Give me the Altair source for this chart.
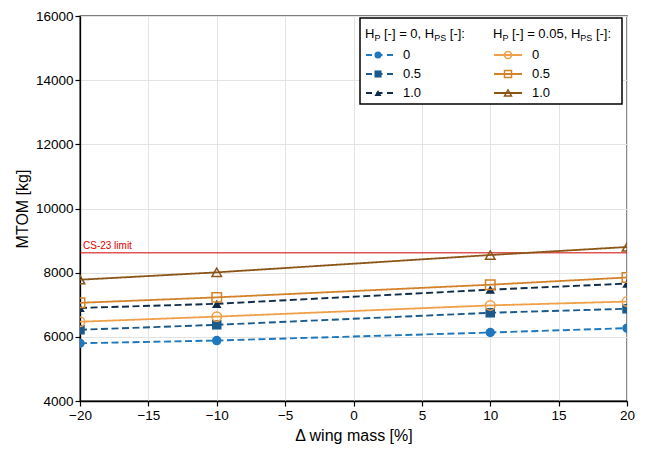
import altair as alt
import pandas as pd

# ---- data ----
wing_mass = [-20, -10, 10, 20]
hp0_hps0 = [5800, 5885, 6135, 6270]
hp0_hps05 = [6220, 6375, 6750, 6875]
hp0_hps1 = [6900, 7030, 7470, 7660]
hp005_hps0 = [6470, 6630, 6980, 7100]
hp005_hps05 = [7060, 7230, 7625, 7850]
hp005_hps1 = [7780, 8010, 8550, 8800]
cs23_limit = 8618
hps_labels = ["0", "0.5", "1.0"]

FONT = "Liberation Sans"
W, H = 547, 385

series = [
    ("b0", hp0_hps0, "#1f78be", "circle", True, [7, 3.5], 1.9),
    ("b05", hp0_hps05, "#1a5a8c", "square", True, [7, 3.5], 1.9),
    ("b1", hp0_hps1, "#0f2c4a", "triangle-up", True, [7, 3.5], 1.9),
    ("o0", hp005_hps0, "#efa048", "circle", False, [1, 0], 1.8),
    ("o05", hp005_hps05, "#d4822a", "square", False, [1, 0], 1.8),
    ("o1", hp005_hps1, "#8c5518", "triangle-up", False, [1, 0], 1.8),
]

rows = []
for name, vals, *_ in series:
    for x, y in zip(wing_mass, vals):
        rows.append({"s": name, "x": x, "y": y})
df = pd.DataFrame(rows)

xscale = alt.Scale(domain=[-20, 20], nice=False, zero=False)
yscale = alt.Scale(domain=[4000, 16000], nice=False, zero=False)
xaxis = alt.Axis(values=list(range(-20, 21, 5)), title="Δ wing mass [%]", labelFlush=False)
yaxis = alt.Axis(values=list(range(4000, 16001, 2000)), title="MTOM [kg]", format="d",
                 labelFlush=False)

base = alt.Chart(df)
layers = []

lim_df = pd.DataFrame({"y": [cs23_limit], "x": [-20], "t": ["CS-23 limit"]})
layers.append(
    alt.Chart(lim_df).mark_rule(color="#d00000", strokeWidth=1).encode(
        y=alt.Y("y:Q", scale=yscale, axis=yaxis)
    )
)
layers.append(
    alt.Chart(lim_df).mark_text(
        color="#e00000", fontSize=10, align="left", baseline="bottom", dx=3, dy=-2, font=FONT
    ).encode(x=alt.X("x:Q", scale=xscale, axis=xaxis), y=alt.Y("y:Q", scale=yscale), text="t:N")
)

for name, vals, color, shape, filled, dash, sw in series:
    sub = base.transform_filter(alt.datum.s == name)
    layers.append(
        sub.mark_line(color=color, strokeWidth=sw, strokeDash=dash, clip=True).encode(
            x=alt.X("x:Q", scale=xscale, axis=xaxis),
            y=alt.Y("y:Q", scale=yscale, axis=yaxis),
        )
    )
    if filled:
        pm = sub.mark_point(shape=shape, filled=True, color=color, size=90, opacity=1, clip=True)
    else:
        pm = sub.mark_point(shape=shape, filled=False, color=color, size=90, strokeWidth=1.5,
                            opacity=1, clip=True)
    layers.append(pm.encode(x="x:Q", y="y:Q"))

# ---- custom legend ----
one = alt.Chart(pd.DataFrame({"a": [0]}))
layers.append(
    one.mark_rect(fill="white", stroke="black", strokeWidth=1.5).encode(
        x=alt.value(280), x2=alt.value(542), y=alt.value(2), y2=alt.value(88)
    )
)


def txt(x, y, s, size=13):
    return one.mark_text(
        text=s, fontSize=size, align="left", baseline="middle", font=FONT, color="black"
    ).encode(x=alt.value(x), y=alt.value(y))


def header(x0, mid, sub_pos, tail_pos):
    return [
        txt(x0, 18, "H"),
        txt(x0 + 9.4, 21.5, "P", 9),
        txt(x0 + 19.0, 18, mid),
        txt(x0 + sub_pos, 21.5, "PS", 9),
        txt(x0 + tail_pos, 18, "[-]:"),
    ]


layers += header(285, "[-] = 0, H", 69.2, 84.8)
layers += header(413, "[-] = 0.05, H", 87.3, 102.9)

row_y = [39, 58, 77]
for i, (name, vals, color, shape, filled, dash, sw) in enumerate(series):
    col = 0 if i < 3 else 1
    y = row_y[i % 3]
    lx0, lx1, mx, tx = (285, 313, 298, 323) if col == 0 else (414, 442, 428, 452)
    if filled:
        layers.append(
            one.mark_rule(color=color, strokeWidth=2.2, strokeDash=[6, 4.5], strokeDashOffset=-1).encode(
                x=alt.value(lx0), x2=alt.value(lx1), y=alt.value(y)
            )
        )
        layers.append(
            one.mark_point(shape=shape, filled=True, color=color, size=50, opacity=1).encode(
                x=alt.value(mx), y=alt.value(y)
            )
        )
    else:
        layers.append(
            one.mark_rule(color=color, strokeWidth=2).encode(
                x=alt.value(lx0), x2=alt.value(lx1), y=alt.value(y)
            )
        )
        layers.append(
            one.mark_point(shape=shape, filled=False, color=color, size=50, strokeWidth=1.4,
                           opacity=1).encode(x=alt.value(mx), y=alt.value(y))
        )
    layers.append(txt(tx, y, hps_labels[i % 3]))

chart = (
    alt.layer(*layers)
    .properties(
        width=W,
        height=H,
        autosize=alt.AutoSizeParams(type="none"),
        padding={"left": 72, "top": 8, "right": 11, "bottom": 43},
    )
    .configure(font=FONT)
    .configure_view(stroke="black", strokeWidth=1.3)
    .configure_axis(
        grid=True,
        gridColor="#e3e3e3",
        gridWidth=1,
        domainColor="black",
        domainWidth=1.3,
        tickColor="black",
        tickSize=5,
        tickWidth=1.2,
        labelFont=FONT,
        labelFontSize=13.5,
        labelColor="black",
        labelFlush=False,
        titleFont=FONT,
        titleFontSize=16,
        titleFontWeight="normal",
        titleColor="black",
        labelPadding=2,
    )
    .configure_axisY(titlePadding=5)
    .configure_axisX(titlePadding=6)
)

chart.save("out.html", embed_options={"renderer": "svg", "actions": False})
